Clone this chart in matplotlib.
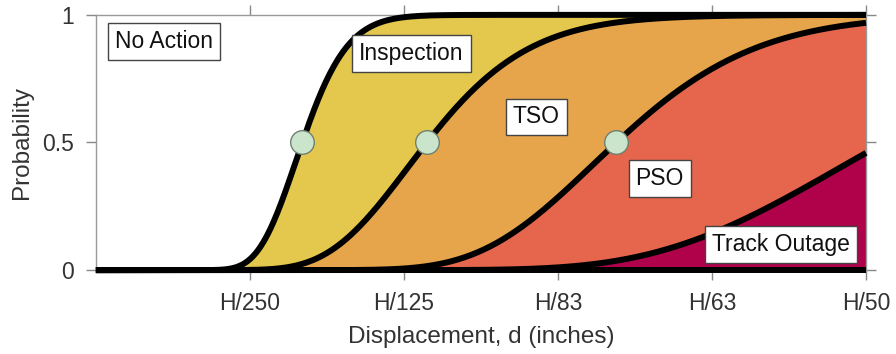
import math
import numpy as np
import matplotlib
matplotlib.use('Agg')
import matplotlib.pyplot as plt

# fragility curves (lognormal), x in units of H/250
states = ['Inspection', 'TSO', 'PSO', 'Track Outage']
medians = [1.34, 2.15, 3.38, 5.12]
betas = [0.17, 0.24, 0.21, 0.232]
colors = ['#E4C84E', '#E6A44B', '#E5664C', '#B0024A']

xticks = [1, 2, 3, 4, 5]
xticklabels = ['H/250', 'H/125', 'H/83', 'H/63', 'H/50']
yticks = [0, 0.5, 1]
yticklabels = ['0', '0.5', '1']

# region labels: (text, x, y)
labels = [('No Action', 0.44, 0.895), ('Inspection', 2.05, 0.85), ('TSO', 2.86, 0.60),
          ('PSO', 3.66, 0.36), ('Track Outage', 4.45, 0.10)]

plt.rcParams['font.family'] = ['Liberation Sans', 'DejaVu Sans']
erf = np.vectorize(math.erf)


def lognorm_cdf(x, m, b):
    z = np.log(np.maximum(x, 1e-9) / m) / b
    return 0.5 * (1 + erf(z / np.sqrt(2)))


x = np.linspace(0, 5, 600)
curves = [lognorm_cdf(x, m, b) for m, b in zip(medians, betas)]

fig = plt.figure(figsize=(8.96, 3.54), dpi=100)
ax = fig.add_axes([0.107, 0.237, 0.8595, 0.721])

lower = curves[1:] + [np.zeros_like(x)]
for c, lo, col in zip(curves, lower, colors):
    ax.fill_between(x, lo, c, color=col, lw=0)

for c in curves:
    ax.plot(x, c, color='k', lw=4.3, solid_capstyle='butt', clip_on=False, zorder=3)
ax.plot([0, 5], [0, 0], color='k', lw=4.3, solid_capstyle='butt', clip_on=False, zorder=3)

ax.plot(medians[:3], [0.5] * 3, 'o', ms=17, mfc='#CBE5CD', mec='#6f806f', mew=1, zorder=4)

for t, lx, ly in labels:
    ax.text(lx, ly, t, ha='center', va='center', fontsize=16.5, color='#111111', zorder=5,
            bbox=dict(boxstyle='square,pad=0.3', fc='white', ec='#444444', lw=1))

ax.set_xlim(0, 5)
ax.set_ylim(0, 1)
ax.set_xticks(xticks)
ax.set_xticklabels(xticklabels)
ax.set_yticks(yticks)
ax.set_yticklabels(yticklabels)
ax.tick_params(direction='out', length=7, width=1, color='#888888', labelsize=16.5,
               labelcolor='#333333', top=True, right=True, pad=9)
for s in ax.spines.values():
    s.set_color('#999999')
    s.set_linewidth(1)
ax.set_xlabel('Displacement, d (inches)', fontsize=17.5, color='#333333', labelpad=8)
ax.set_ylabel('Probability', fontsize=17.5, color='#333333', labelpad=6)

fig.savefig('out.png', dpi=100)
